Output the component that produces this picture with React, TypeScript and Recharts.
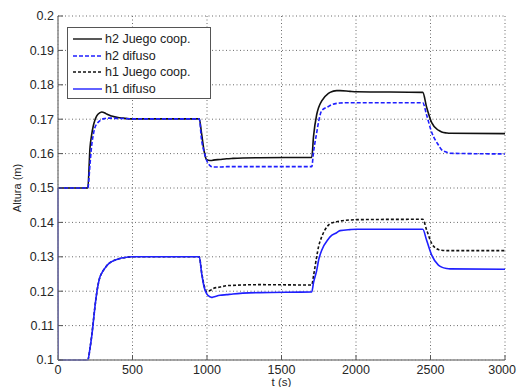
import { CartesianGrid, Label, Line, LineChart, XAxis, YAxis } from "recharts";

// tiempo (s)
const timeS = [
  0, 1, 200, 215, 226, 237, 248, 260, 282, 293, 315, 327, 349, 360, 416, 438, 500, 948, 964, 980, 998, 1020, 1031,
  1042, 1087, 1132, 1174, 1352, 1703, 1715, 1736, 1750, 1770, 1815, 1826, 1870, 1893, 1960, 2005, 2448, 2474, 2508,
  2553, 2575, 2609, 2631, 3000,
];

const h2Coop = [
  0.15, 0.15, 0.15, 0.1618, 0.1655, 0.1681, 0.1698, 0.171, 0.1719, 0.1721, 0.1718, 0.1715, 0.1711, 0.1709, 0.1704,
  0.1703, 0.1701, 0.1701, 0.1657, 0.1609, 0.1582, 0.158, 0.158, 0.1581, 0.1583, 0.1585, 0.1586, 0.1588, 0.1589, 0.165,
  0.1713, 0.1735, 0.1753, 0.1775, 0.1778, 0.1783, 0.1783, 0.1781, 0.178, 0.1778, 0.1735, 0.169, 0.1668, 0.1663, 0.166,
  0.1659, 0.1658,
];

const h2Difuso = [
  0.15, 0.15, 0.15, 0.157, 0.1624, 0.1655, 0.1676, 0.1686, 0.1696, 0.1699, 0.1702, 0.1703, 0.1703, 0.1703, 0.1702,
  0.1702, 0.1701, 0.1701, 0.1638, 0.1606, 0.158, 0.1565, 0.1562, 0.1561, 0.1561, 0.1562, 0.1562, 0.1562, 0.1562, 0.1605,
  0.166, 0.1695, 0.1725, 0.1737, 0.174, 0.1746, 0.1747, 0.1748, 0.1748, 0.1748, 0.1712, 0.1662, 0.1625, 0.1611, 0.1604,
  0.1601, 0.1599,
];

const h1Coop = [
  0.1, 0.1, 0.1, 0.1035, 0.107, 0.1112, 0.1155, 0.1195, 0.1242, 0.1252, 0.1267, 0.1274, 0.1283, 0.1286, 0.1295, 0.1297,
  0.13, 0.13, 0.1255, 0.1218, 0.1199, 0.1202, 0.1205, 0.1208, 0.1212, 0.1216, 0.1217, 0.1219, 0.1218, 0.1245, 0.13,
  0.1332, 0.1358, 0.1392, 0.1396, 0.1402, 0.1404, 0.1407, 0.1408, 0.1409, 0.1378, 0.1339, 0.1321, 0.1319, 0.1318,
  0.1318, 0.1318,
];

const h1Difuso = [
  0.15, 0.1, 0.1, 0.1035, 0.1068, 0.111, 0.1155, 0.1195, 0.1242, 0.1252, 0.1267, 0.1274, 0.1283, 0.1286, 0.1295,
  0.1297, 0.13, 0.13, 0.1252, 0.1213, 0.1192, 0.1184, 0.1182, 0.1183, 0.1188, 0.119, 0.1192, 0.1196, 0.1198, 0.1225,
  0.126, 0.1292, 0.1319, 0.1352, 0.1358, 0.137, 0.1376, 0.1379, 0.138, 0.138, 0.1348, 0.1305, 0.1276, 0.127, 0.1266,
  0.1265, 0.1264,
];

const xTicks = [0, 500, 1000, 1500, 2000, 2500, 3000];
const yTicks = [0.1, 0.11, 0.12, 0.13, 0.14, 0.15, 0.16, 0.17, 0.18, 0.19, 0.2];

const SERIES = [
  { key: "h2Coop", name: "h2 Juego coop.", color: "#111111", dash: undefined, values: h2Coop },
  { key: "h2Difuso", name: "h2 difuso", color: "#1f1fff", dash: "4 2", values: h2Difuso },
  { key: "h1Coop", name: "h1 Juego coop.", color: "#111111", dash: "3 2", values: h1Coop },
  { key: "h1Difuso", name: "h1 difuso", color: "#1f1fff", dash: undefined, values: h1Difuso },
];

const chartData = timeS.map((t, i) => {
  const row: Record<string, number> = { t };
  for (const s of SERIES) row[s.key] = s.values[i];
  return row;
});

const FONT = "'Liberation Sans', Arial, sans-serif";
const tickStyle = { fill: "#262626", fontSize: 12.5, fontFamily: FONT };

function formatY(v: number) {
  return String(Number(v.toFixed(2)));
}

// x tick labels; the last one is kept inside the picture
function XTick(props: any) {
  const { x, y, payload } = props;
  const last = payload.value === xTicks[xTicks.length - 1];
  return (
    <text
      x={last ? x + 11 : x}
      y={y}
      dy="0.71em"
      textAnchor={last ? "end" : "middle"}
      fill={tickStyle.fill}
      fontSize={tickStyle.fontSize}
      fontFamily={FONT}
    >
      {payload.value}
    </text>
  );
}

// MATLAB-style legend box, drawn over the plot area
function LegendBox() {
  return (
    <div
      style={{
        position: "absolute",
        left: 67,
        top: 27,
        width: 138,
        border: "1px solid #555",
        background: "#fff",
        padding: "3px 0 1px 4px",
        fontFamily: FONT,
        fontSize: 12.5,
        color: "#222",
        lineHeight: "16.5px",
      }}
    >
      {SERIES.map((s) => (
        <div key={s.key} style={{ display: "flex", alignItems: "center", whiteSpace: "nowrap" }}>
          <svg width={31} height={8} style={{ marginRight: 2 }}>
            <line x1={1} y1={4} x2={30} y2={4} stroke={s.color} strokeWidth={1.4} strokeDasharray={s.dash} />
          </svg>
          <span>{s.name}</span>
        </div>
      ))}
    </div>
  );
}

function YLabel(props: any) {
  const vb = props.viewBox || { x: 0, y: 0, width: 0, height: 0 };
  const cx = vb.x + 17;
  const cy = vb.y + vb.height / 2;
  return (
    <text
      x={cx}
      y={cy}
      transform={`rotate(-90 ${cx} ${cy})`}
      textAnchor="middle"
      dominantBaseline="central"
      fill="#262626"
      fontSize={11}
      fontFamily={FONT}
    >
      Altura (m)
    </text>
  );
}

export default function App() {
  return (
    <div style={{ position: "absolute", left: 0, top: 0, width: 517, height: 387, background: "#fff" }}>
      <LineChart width={517} height={387} data={chartData} margin={{ top: 16, right: 12, left: 0, bottom: 0 }}>
        <CartesianGrid strokeDasharray="1 2.5" stroke="#6a6a6a" strokeWidth={1} />
        <XAxis
          dataKey="t"
          type="number"
          domain={[0, 3000]}
          ticks={xTicks}
          interval={0}
          height={27}
          tick={<XTick />}
          tickSize={-5}
          tickMargin={10}
          tickLine={{ stroke: "#555" }}
          axisLine={{ stroke: "#8a8a8a", strokeWidth: 1.5 }}
        >
          <Label value="t (s)" position="insideBottom" offset={1} fill="#262626" fontSize={11.5} fontFamily={FONT} />
        </XAxis>
        <XAxis
          xAxisId="top"
          orientation="top"
          type="number"
          domain={[0, 3000]}
          ticks={xTicks}
          interval={0}
          height={0}
          tickSize={-5}
          tickFormatter={() => ""}
          tickLine={{ stroke: "#555" }}
          axisLine={{ stroke: "#8a8a8a", strokeWidth: 1.5 }}
        />
        <YAxis
          type="number"
          domain={[0.1, 0.2]}
          ticks={yTicks}
          interval={0}
          width={58}
          tick={tickStyle}
          tickFormatter={formatY}
          tickSize={-5}
          tickMargin={9}
          tickLine={{ stroke: "#555" }}
          axisLine={{ stroke: "#8a8a8a", strokeWidth: 1.5 }}
        >
          <Label content={YLabel} />
        </YAxis>
        <YAxis
          yAxisId="right"
          orientation="right"
          type="number"
          domain={[0.1, 0.2]}
          ticks={yTicks}
          interval={0}
          width={0}
          tickSize={-5}
          tickFormatter={() => ""}
          tickLine={{ stroke: "#555" }}
          axisLine={{ stroke: "#8a8a8a", strokeWidth: 1.5 }}
        />
        {SERIES.map((s) => (
          <Line
            key={s.key}
            dataKey={s.key}
            name={s.name}
            type="monotone"
            stroke={s.color}
            strokeWidth={1.6}
            strokeDasharray={s.dash}
            dot={false}
            activeDot={false}
            isAnimationActive={false}
          />
        ))}
      </LineChart>
      <LegendBox />
    </div>
  );
}
